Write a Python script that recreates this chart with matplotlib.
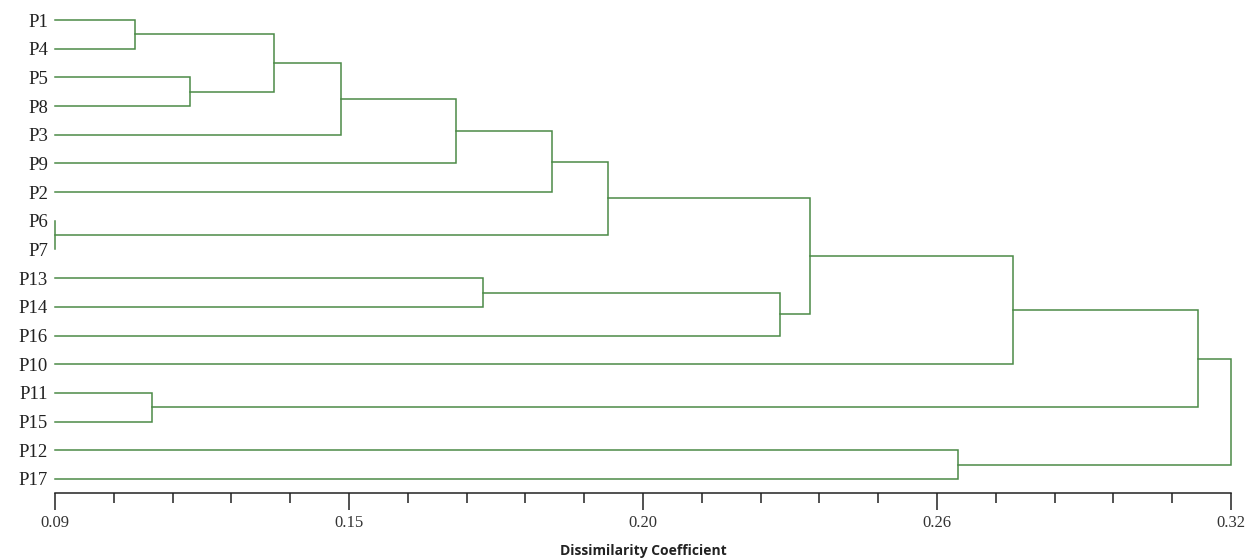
import matplotlib
matplotlib.use("Agg")
import matplotlib.pyplot as plt

# leaf order top to bottom
leaves = ["P1", "P4", "P5", "P8", "P3", "P9", "P2", "P6", "P7",
          "P13", "P14", "P16", "P10", "P11", "P15", "P12", "P17"]

# merges in order, each one makes a new cluster C1, C2, ...
left_node = ["P1", "P5", "C1", "C3", "C4", "C5", "P6", "C6",
             "P13", "C9", "C8", "C11", "P11", "C12", "P12", "C14"]
right_node = ["P4", "P8", "C2", "P3", "P9", "P2", "P7", "C7",
              "P14", "P16", "C10", "P10", "P15", "C13", "P17", "C15"]
heights = [0.1056, 0.1164, 0.1328, 0.1459, 0.1684, 0.1872, 0.0900, 0.1982,
           0.1737, 0.2318, 0.2377, 0.2774, 0.1090, 0.3135, 0.2666, 0.3200]

x_min, x_max = 0.09, 0.32
tick_pos = [0.09, 0.1475, 0.205, 0.2625, 0.32]
tick_labels = ["0.09", "0.15", "0.20", "0.26", "0.32"]

line_color = "#4b8a47"

fig = plt.figure(figsize=(12.5, 5.6), dpi=100)
ax = fig.add_axes([55 / 1250, 1 - 493 / 560, (1231 - 55) / 1250, 483 / 560])

# node positions: (x = height, y = row)
pos = {name: (x_min, i) for i, name in enumerate(leaves)}

for k, (a, b, h) in enumerate(zip(left_node, right_node, heights)):
    xa, ya = pos[a]
    xb, yb = pos[b]
    ax.plot([xa, h, h, xb], [ya, ya, yb, yb], color=line_color, lw=1.1,
            solid_joinstyle="miter", clip_on=False)
    pos["C%d" % (k + 1)] = (h, (ya + yb) / 2)

ax.set_xlim(x_min, x_max)
ax.set_ylim(16.49, -0.35)

ax.set_yticks(range(len(leaves)))
ax.set_yticklabels(leaves, family="Liberation Serif", fontsize=13.5, color="#222222")
ax.tick_params(axis="y", length=0, pad=5)

ax.set_xticks(tick_pos)
ax.set_xticklabels(tick_labels, family="Liberation Serif", fontsize=12, color="#333333")
minor = [x_min + i * (x_max - x_min) / 20 for i in range(21)]
ax.set_xticks(minor, minor=True)
ax.tick_params(axis="x", which="major", length=12, width=1.1, color="#222222", pad=4)
ax.tick_params(axis="x", which="minor", length=7, width=1.1, color="#222222")

for side in ["top", "right", "left"]:
    ax.spines[side].set_visible(False)
ax.spines["bottom"].set_linewidth(1.1)
ax.spines["bottom"].set_color("#222222")

ax.set_xlabel("Dissimilarity Coefficient", family="Open Sans", fontweight="bold",
              fontsize=10, labelpad=9, color="#222222")

fig.savefig("out.png", dpi=100)
